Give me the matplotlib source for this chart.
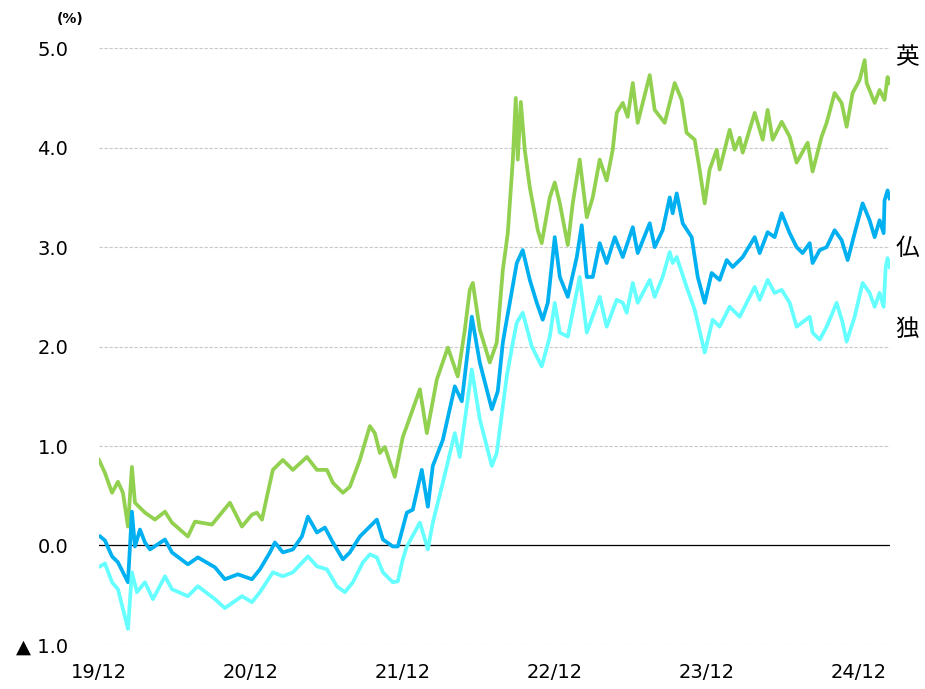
import matplotlib
matplotlib.use("Agg")
import matplotlib.pyplot as plt

# x = months since Dec 2019 (0 = 19/12), y = 10y yield (%)
UK_T = [0, 0.47, 1.03, 1.5, 1.89, 2.29, 2.6, 2.84, 3.63, 4.42, 5.21, 5.76, 7.02, 7.58,
        8.92, 10.34, 11.29, 12.08, 12.47, 12.87, 13.26, 13.73, 14.52, 15.31, 16.42, 17.21,
        18.0, 18.47, 19.26, 19.81, 20.6, 21.39, 21.78, 22.18, 22.57, 23.36, 23.99, 24.39,
        25.34, 25.89, 26.68, 27.55, 28.33, 28.89, 29.28, 29.52, 30.07, 30.86, 31.41, 31.89,
        32.28, 32.68, 32.91, 33.07, 33.31, 33.62, 34.02, 34.65, 34.96, 35.6, 35.99, 36.39,
        37.02, 37.41, 37.96, 38.52, 38.99, 39.54, 40.09, 40.57, 40.88, 41.36, 41.75, 42.15,
        42.54, 43.49, 43.88, 44.67, 45.46, 46.01, 46.4, 47.04, 47.43, 47.83, 48.22, 48.78,
        49.01, 49.8, 50.2, 50.59, 50.83, 51.78, 52.41, 52.8, 53.2, 53.91, 54.54, 55.09,
        55.96, 56.35, 57.06, 57.46, 58.09, 58.64, 59.04, 59.51, 60.06, 60.46, 60.62, 61.25,
        61.64, 62.03, 62.27, 62.43]
UK_Y = [0.86, 0.73, 0.53, 0.64, 0.53, 0.19, 0.79, 0.43, 0.33, 0.26, 0.34, 0.23, 0.09, 0.24,
        0.21, 0.43, 0.19, 0.31, 0.33, 0.26, 0.49, 0.76, 0.86, 0.76, 0.89, 0.76,
        0.76, 0.63, 0.53, 0.59, 0.86, 1.2, 1.13, 0.93, 0.99, 0.69, 1.09, 1.23,
        1.57, 1.13, 1.67, 1.99, 1.70, 2.17, 2.57, 2.64, 2.17, 1.84, 2.04, 2.77,
        3.14, 3.88, 4.5, 3.88, 4.46, 3.98, 3.6, 3.17, 3.04, 3.5, 3.65, 3.44,
        3.02, 3.44, 3.88, 3.30, 3.5, 3.88, 3.67, 3.98, 4.35, 4.45, 4.31, 4.65,
        4.25, 4.73, 4.38, 4.25, 4.65, 4.48, 4.15, 4.08, 3.78, 3.44, 3.78, 3.98,
        3.78, 4.18, 3.98, 4.1, 3.95, 4.35, 4.08, 4.38, 4.08, 4.26, 4.11, 3.85,
        4.05, 3.76, 4.11, 4.25, 4.55, 4.45, 4.21, 4.55, 4.68, 4.88, 4.65, 4.45,
        4.58, 4.48, 4.71, 4.65]

FR_T = [0.1, 0.47, 1.03, 1.5, 2.29, 2.6, 2.84, 3.24, 3.63, 4.03, 5.21, 5.76, 7.02, 7.81,
        9.16, 9.94, 10.97, 12.08, 12.71, 13.5, 13.89, 14.52, 15.31, 16.02, 16.5, 17.21,
        17.84, 18.47, 19.26, 19.81, 20.6, 21.39, 21.94, 22.42, 23.2, 23.6, 24.31, 24.78,
        25.49, 25.97, 26.36, 27.15, 28.1, 28.65, 29.44, 30.07, 31.02, 31.49, 31.89, 32.2,
        32.44, 32.99, 33.46, 34.02, 34.57, 35.04, 35.44, 35.99, 36.39, 37.02, 37.73, 38.12,
        38.52, 38.99, 39.54, 40.09, 40.73, 41.36, 42.15, 42.54, 43.49, 43.88, 44.51, 45.07,
        45.3, 45.62, 46.09, 46.8, 47.28, 47.83, 48.38, 49.01, 49.57, 50.04, 50.83, 51.78,
        52.17, 52.8, 53.35, 53.91, 54.54, 55.09, 55.56, 56.12, 56.35, 56.91, 57.46, 58.09,
        58.64, 59.12, 59.67, 60.3, 60.85, 61.25, 61.64, 61.96, 62.03, 62.27, 62.43]
FR_Y = [0.09, 0.05, -0.11, -0.17, -0.37, 0.34, -0.01, 0.16, 0.03, -0.04, 0.06, -0.07, -0.19, -0.12,
        -0.22, -0.34, -0.29, -0.34, -0.24, -0.07, 0.03, -0.07, -0.04, 0.09, 0.29, 0.13,
        0.18, 0.03, -0.14, -0.07, 0.09, 0.19, 0.26, 0.06, -0.01, -0.01, 0.33, 0.36,
        0.76, 0.39, 0.80, 1.06, 1.6, 1.45, 2.30, 1.84, 1.37, 1.55, 2.04, 2.27,
        2.44, 2.84, 2.97, 2.67, 2.44, 2.27, 2.44, 3.1, 2.7, 2.5, 2.9, 3.22,
        2.70, 2.70, 3.04, 2.84, 3.10, 2.9, 3.2, 2.94, 3.24, 3.0, 3.17, 3.5,
        3.34, 3.54, 3.24, 3.1, 2.7, 2.44, 2.74, 2.67, 2.87, 2.8, 2.9, 3.1,
        2.94, 3.15, 3.1, 3.34, 3.14, 3.0, 2.94, 3.04, 2.84, 2.97, 3.0, 3.17,
        3.07, 2.87, 3.14, 3.44, 3.27, 3.1, 3.27, 3.14, 3.47, 3.57, 3.49]

DE_T = [0.1, 0.47, 1.03, 1.5, 2.29, 2.6, 3.0, 3.63, 4.26, 5.21, 5.76, 7.02, 7.81, 9.16,
        9.94, 11.29, 12.08, 12.71, 13.73, 14.52, 15.31, 16.5, 17.21, 18.0, 18.78, 19.42,
        20.05, 20.84, 21.39, 21.94, 22.42, 23.2, 23.6, 23.99, 24.31, 25.34, 25.97, 26.36,
        27.15, 28.1, 28.49, 29.44, 30.07, 31.02, 31.41, 32.2, 32.68, 32.99, 33.46, 34.18,
        34.96, 35.6, 35.99, 36.39, 37.02, 37.96, 38.52, 39.54, 40.09, 40.88, 41.36, 41.67,
        42.15, 42.54, 43.49, 43.88, 44.51, 45.07, 45.3, 45.62, 46.4, 47.04, 47.83, 48.46,
        49.01, 49.8, 50.59, 51.78, 52.17, 52.8, 53.35, 53.91, 54.54, 55.09, 56.12, 56.35,
        56.91, 57.46, 58.25, 58.72, 59.04, 59.67, 60.3, 60.85, 61.25, 61.64, 61.96, 62.12,
        62.27, 62.43]
DE_Y = [-0.21, -0.18, -0.37, -0.44, -0.84, -0.27, -0.47, -0.37, -0.54, -0.31, -0.44, -0.51, -0.41, -0.54,
        -0.63, -0.51, -0.57, -0.47, -0.27, -0.31, -0.27, -0.11, -0.21, -0.24, -0.41, -0.47,
        -0.37, -0.17, -0.09, -0.12, -0.27, -0.37, -0.36, -0.14, -0.01, 0.23, -0.04, 0.23,
        0.63, 1.13, 0.89, 1.77, 1.27, 0.80, 0.93, 1.7, 2.04, 2.24, 2.34, 2.0,
        1.8, 2.1, 2.44, 2.14, 2.1, 2.7, 2.14, 2.5, 2.2, 2.47, 2.44, 2.34,
        2.64, 2.44, 2.67, 2.5, 2.7, 2.95, 2.84, 2.9, 2.6, 2.37, 1.94, 2.27,
        2.2, 2.4, 2.3, 2.6, 2.47, 2.67, 2.54, 2.57, 2.44, 2.2, 2.3, 2.14,
        2.07, 2.2, 2.44, 2.24, 2.05, 2.3, 2.64, 2.54, 2.4, 2.54, 2.4, 2.8,
        2.89, 2.8]

X_TICKS = [0, 12, 24, 36, 48, 60]
X_LABELS = ["19/12", "20/12", "21/12", "22/12", "23/12", "24/12"]
Y_TICKS = [-1, 0, 1, 2, 3, 4, 5]
Y_LABELS = ["▲ 1.0", "0.0", "1.0", "2.0", "3.0", "4.0", "5.0"]

SERIES = [
    ("英", UK_T, UK_Y, "#92d050", 4.91),
    ("仏", FR_T, FR_Y, "#00b0f0", 2.99),
    ("独", DE_T, DE_Y, "#66ffff", 2.17),
]

plt.rcParams["font.family"] = ["DejaVu Sans", "Noto Sans CJK JP"]

fig = plt.figure(figsize=(9.25, 6.89), dpi=100)
ax = fig.add_axes([0.107, 0.064, 0.855, 0.866])

for lab, t, y, col, ly in SERIES:
    ax.plot(t, y, color=col, linewidth=2.7, solid_joinstyle="round")
    ax.text(62.9, ly, lab, fontsize=17, ha="left", va="center",
            family=["Noto Sans CJK JP", "DejaVu Sans"], clip_on=False)

ax.axhline(0, color="black", linewidth=0.9, zorder=1)
for yv in Y_TICKS:
    if yv != 0:
        ax.axhline(yv, color="#c8c8c8", linewidth=0.8, linestyle=(0, (3, 1.5)), zorder=0)

ax.set_xlim(0, 62.45)
ax.set_ylim(-1, 5)
ax.set_xticks(X_TICKS)
ax.set_xticklabels(X_LABELS, fontsize=14)
ax.set_yticks(Y_TICKS)
ax.set_yticklabels(Y_LABELS, fontsize=14)
ax.tick_params(axis="both", length=0)
ax.tick_params(axis="y", pad=22)
ax.tick_params(axis="x", pad=13)
for s in ax.spines.values():
    s.set_visible(False)

fig.text(0.076, 0.972, "(%)", fontsize=10, fontweight="bold", ha="center", va="center")

fig.savefig("out.png", dpi=100)
